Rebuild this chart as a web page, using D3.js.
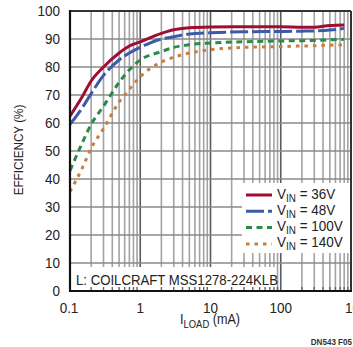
<!DOCTYPE html>
<html><head><meta charset="utf-8">
<script src="https://cdn.jsdelivr.net/npm/d3@7"></script>
<style>
html,body{margin:0;padding:0;background:#fff;}
svg{display:block;}
text{font-family:"Liberation Sans",Arial,sans-serif;fill:#222;}
</style></head>
<body>
<svg id="c" width="353" height="347"></svg>
<script>
const loadX = [0.1, 0.15, 0.2, 0.3, 0.5, 0.7, 1, 2, 3, 5, 10, 30, 100, 200, 300, 500, 800];
const eff36  = [62.5, 69.5, 75, 80, 85, 87.5, 89, 92, 93.3, 94, 94.3, 94.4, 94.4, 94.2, 94.2, 94.8, 95];
const eff48  = [59.5, 65.5, 70.5, 77, 82.5, 85, 87, 90, 90.8, 91.8, 92.2, 92.6, 92.7, 92.8, 92.9, 93.2, 93.8];
const eff100 = [43, 53, 59.5, 66, 74.5, 79, 82.5, 85.5, 87, 88, 88.6, 89, 89.3, 89.4, 89.5, 89.7, 89.9];
const eff140 = [35.5, 44, 51, 58, 67.5, 72, 76.5, 81.8, 83.5, 85, 86.2, 87, 87.3, 87.5, 87.6, 87.8, 87.9];
const seriesNames = ["36V", "48V", "100V", "140V"];
const xTicks = [0.1, 1, 10, 100, 1000];
const yTicks = [0, 10, 20, 30, 40, 50, 60, 70, 80, 90, 100];

const colors = ["#a00d32", "#3a5ca8", "#2b8a48", "#c97f3c"];
const dashes = [null, "18,4", "6,4.5", "3.5,5"];
const allSeries = [eff36, eff48, eff100, eff140];

const svg = d3.select("#c");
const x = d3.scaleLog().domain([0.1, 1000]).range([70, 351]);
const y = d3.scaleLinear().domain([0, 100]).range([291, 11]);

// grid
const minor = [];
for (let d = -1; d < 3; d++) for (let k = 2; k <= 9; k++) minor.push(k * Math.pow(10, d));
const g = svg.append("g");
g.selectAll(".vm").data(minor).enter().append("line")
  .attr("x1", d => x(d)).attr("x2", d => x(d)).attr("y1", y(100)).attr("y2", y(0))
  .attr("stroke", "#a3a3a3").attr("stroke-width", 1.6);
g.selectAll(".vM").data(xTicks).enter().append("line")
  .attr("x1", d => x(d)).attr("x2", d => x(d)).attr("y1", y(100)).attr("y2", y(0))
  .attr("stroke", "#5a5a5a").attr("stroke-width", 1.6);
g.selectAll(".h").data(yTicks).enter().append("line")
  .attr("x1", x(0.1)).attr("x2", x(1000)).attr("y1", d => y(d)).attr("y2", d => y(d))
  .attr("stroke", "#8a8a8a").attr("stroke-width", 1.6);

// curves
const line = d3.line().x(d => x(d[0])).y(d => y(d[1])).curve(d3.curveMonotoneX);
allSeries.forEach((s, i) => {
  const p = svg.append("path").datum(loadX.map((v, j) => [v, s[j]]))
    .attr("d", line).attr("fill", "none").attr("stroke", colors[i]).attr("stroke-width", 3);
  if (dashes[i]) p.attr("stroke-dasharray", dashes[i]);
});

// helper for condensed text
function ctext(parent, tx, ty, str, size, anchor, sx) {
  sx = sx || 0.9;
  const t = parent.append("text").attr("transform", `translate(${tx},${ty}) scale(${sx},1)`)
    .attr("font-size", size).attr("text-anchor", anchor || "start").text(str);
  return t;
}

// annotation box
svg.append("rect").attr("x", x(0.1) + 1).attr("y", 267).attr("width", 276 - x(0.1) - 1).attr("height", 24).attr("fill", "#fff");
ctext(svg, 76, 285, "L: COILCRAFT MSS1278-224KLB", 15, "start", 0.88);

// minor ticks at bottom
svg.selectAll(".mt").data(minor).enter().append("line")
  .attr("x1", d => x(d)).attr("x2", d => x(d)).attr("y1", y(0)).attr("y2", y(0) - 4)
  .attr("stroke", "#666").attr("stroke-width", 1.4);

// legend
svg.append("rect").attr("x", 242).attr("y", 183).attr("width", 110).attr("height", 70).attr("fill", "#fff");
const lg = svg.append("g");
seriesNames.forEach((n, i) => {
  const by = 198.5 + i * 16.3;
  const l = lg.append("line").attr("x1", 246).attr("x2", 272).attr("y1", by - 3.5).attr("y2", by - 3.5)
    .attr("stroke", colors[i]).attr("stroke-width", 3);
  if (dashes[i]) l.attr("stroke-dasharray", dashes[i]);
  const t = lg.append("text").attr("transform", `translate(277,${by}) scale(0.9,1)`).attr("font-size", 15);
  t.append("tspan").text("V");
  t.append("tspan").attr("font-size", 11).attr("dy", 3).text("IN");
  t.append("tspan").attr("dy", -3).text(" = " + n);
});

// frame
svg.append("line").attr("x1", x(0.1)).attr("x2", x(1000)).attr("y1", y(100)).attr("y2", y(100)).attr("stroke", "#333").attr("stroke-width", 2);
svg.append("line").attr("x1", x(1000)).attr("x2", x(1000)).attr("y1", y(100)).attr("y2", y(0)).attr("stroke", "#333").attr("stroke-width", 2);
svg.append("line").attr("x1", x(0.1) - 1).attr("x2", x(1000) + 1).attr("y1", y(0)).attr("y2", y(0)).attr("stroke", "#111").attr("stroke-width", 2.2);
svg.append("line").attr("x1", x(0.1)).attr("x2", x(0.1)).attr("y1", y(100) - 1).attr("y2", y(0)).attr("stroke", "#111").attr("stroke-width", 2.2);

// axes labels
yTicks.forEach(v => ctext(svg, 60, y(v) + 5, String(v), 15, "end", 0.9));
xTicks.forEach(v => {
  const lbl = v < 1 ? "0.1" : String(v);
  if (v === 1000) ctext(svg, 345, 313, lbl, 15, "start", 0.9);
  else ctext(svg, x(v) - (v === 0.1 ? 1 : 0), 313, lbl, 15, "middle", 0.9);
});

// y title
svg.append("text").attr("transform", "translate(23,150) rotate(-90) scale(0.9,1)")
  .attr("font-size", 13).attr("text-anchor", "middle").text("EFFICIENCY (%)");

// x title
const xt = svg.append("text").attr("transform", "translate(210,324) scale(0.9,1)").attr("font-size", 14).attr("text-anchor", "middle");
xt.append("tspan").text("I");
xt.append("tspan").attr("font-size", 10.5).attr("dy", 3.5).text("LOAD");
xt.append("tspan").attr("dy", -3.5).text(" (mA)");

// figure id
svg.append("text").attr("transform", "translate(352,345) scale(0.85,1)").attr("font-size", 9.5)
  .attr("text-anchor", "end").attr("font-weight", "bold").style("fill", "#333").text("DN543 F05");
</script>
</body></html>
